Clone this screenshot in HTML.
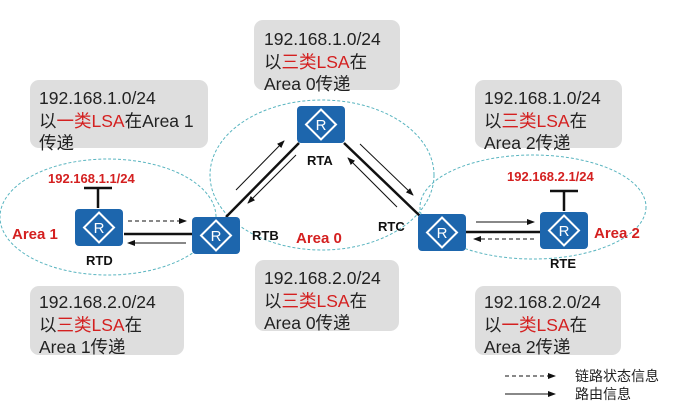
<!DOCTYPE html>
<html><head><meta charset="utf-8"><style>
body{margin:0;background:#fff;}
svg{display:block;}
.t{font-family:"Liberation Sans","Noto Sans CJK SC",sans-serif;font-size:17.5px;fill:#222;}
.r{fill:#d42020;}
.lb{font-family:"Liberation Sans",sans-serif;font-weight:bold;font-size:13px;fill:#111;}
.ar{font-family:"Liberation Sans",sans-serif;font-weight:bold;font-size:15px;fill:#d42020;}
.ip{font-family:"Liberation Sans",sans-serif;font-weight:bold;font-size:13px;fill:#d42020;}
</style></head><body>
<svg width="683" height="417" viewBox="0 0 683 417" xmlns="http://www.w3.org/2000/svg">
<defs>
<marker id="a" markerWidth="8" markerHeight="6" refX="7" refY="3" orient="auto" markerUnits="userSpaceOnUse"><path d="M0,0 L8,3 L0,6z" fill="#111"/></marker>
<g id="rt"><rect x="0" y="0" width="48" height="37" rx="4" fill="#1d66ad"/><path d="M24,3.5 L39,18.5 L24,33.5 L9,18.5z" fill="none" stroke="#fff" stroke-width="2"/><text x="24" y="24" text-anchor="middle" font-family="Liberation Sans,sans-serif" font-size="15" fill="#fff">R</text></g>
</defs>
<g fill="#dedede">
<rect x="254" y="20" width="146" height="70" rx="9"/>
<rect x="30" y="80" width="178" height="68" rx="9"/>
<rect x="475" y="80" width="147" height="68" rx="9"/>
<rect x="30" y="286" width="154" height="69" rx="9"/>
<rect x="255" y="260" width="144" height="71" rx="9"/>
<rect x="475" y="286" width="146" height="69" rx="9"/>
</g>
<g class="t">
<text x="264" y="45">192.168.1.0/24</text><text x="264" y="68">以<tspan class="r">三类LSA</tspan>在</text><text x="264" y="90">Area 0传递</text>
<text x="39" y="104">192.168.1.0/24</text><text x="39" y="127">以<tspan class="r">一类LSA</tspan>在Area 1</text><text x="39" y="149">传递</text>
<text x="484" y="104">192.168.1.0/24</text><text x="484" y="127">以<tspan class="r">三类LSA</tspan>在</text><text x="484" y="149">Area 2传递</text>
<text x="39" y="308">192.168.2.0/24</text><text x="39" y="331">以<tspan class="r">三类LSA</tspan>在</text><text x="39" y="353">Area 1传递</text>
<text x="264" y="284">192.168.2.0/24</text><text x="264" y="307">以<tspan class="r">三类LSA</tspan>在</text><text x="264" y="329">Area 0传递</text>
<text x="484" y="308">192.168.2.0/24</text><text x="484" y="331">以<tspan class="r">一类LSA</tspan>在</text><text x="484" y="353">Area 2传递</text>
</g>
<g fill="none" stroke="#5ab5c0" stroke-width="1" stroke-dasharray="3,2">
<ellipse cx="108" cy="217" rx="108" ry="58"/>
<ellipse cx="322" cy="175" rx="112" ry="75"/>
<ellipse cx="533" cy="207" rx="113" ry="52"/>
</g>
<g stroke="#111" stroke-width="2.5">
<line x1="124" y1="234" x2="192" y2="234"/>
<line x1="226" y1="217" x2="299" y2="143"/>
<line x1="344" y1="143" x2="420" y2="216"/>
<line x1="466" y1="232" x2="540" y2="232"/>
<line x1="98" y1="208" x2="98" y2="188"/><line x1="84" y1="188" x2="112" y2="188"/>
<line x1="564" y1="211" x2="564" y2="191"/><line x1="550" y1="191" x2="578" y2="191"/>
</g>
<g stroke="#111" stroke-width="1" marker-end="url(#a)">
<line x1="128" y1="221" x2="186" y2="221" stroke-dasharray="4,3"/>
<line x1="186" y1="243" x2="128" y2="243"/>
<line x1="236" y1="190" x2="284" y2="141"/>
<line x1="296" y1="155" x2="248" y2="203"/>
<line x1="360" y1="144" x2="413" y2="195"/>
<line x1="397" y1="207" x2="348" y2="158"/>
<line x1="476" y1="222" x2="534" y2="222"/>
<line x1="534" y1="239" x2="474" y2="239" stroke-dasharray="4,3"/>
<line x1="505" y1="376" x2="555" y2="376" stroke-dasharray="4,3"/>
<line x1="505" y1="394" x2="555" y2="394"/>
</g>
<use href="#rt" x="75" y="209"/>
<use href="#rt" x="192" y="217"/>
<use href="#rt" x="297" y="106"/>
<use href="#rt" x="418" y="214"/>
<use href="#rt" x="540" y="212"/>
<g class="lb">
<text x="86" y="265">RTD</text>
<text x="252" y="240">RTB</text>
<text x="307" y="165">RTA</text>
<text x="378" y="231">RTC</text>
<text x="550" y="268">RTE</text>
</g>
<g class="ar">
<text x="12" y="239">Area 1</text>
<text x="296" y="243">Area 0</text>
<text x="594" y="238">Area 2</text>
</g>
<text class="ip" x="48" y="183">192.168.1.1/24</text>
<text class="ip" x="507" y="181">192.168.2.1/24</text>
<g class="t" style="font-size:14px">
<text x="575" y="381">链路状态信息</text>
<text x="575" y="399">路由信息</text>
</g>
</svg>
</body></html>
